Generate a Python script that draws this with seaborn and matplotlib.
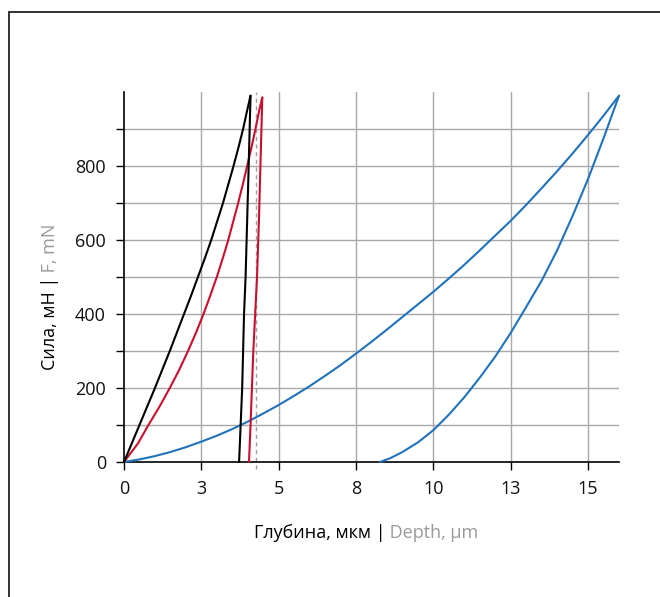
import matplotlib
matplotlib.use("Agg")
import matplotlib.pyplot as plt
import seaborn as sns
from matplotlib.patches import Rectangle

# Кривые нагружения / разгрузки (глубина, мкм ; сила, мН)
black_load_h = [0, 0.25, 0.5, 0.75, 1.0, 1.24, 1.48, 1.71, 1.94, 2.17, 2.39,
                2.61, 2.82, 3.01, 3.20, 3.37, 3.54, 3.70, 3.85, 3.98, 4.09]
black_load_f = [0, 50, 100, 150, 200, 250, 300, 350, 400, 450, 500,
                550, 600, 650, 700, 750, 800, 850, 900, 950, 990]
black_unload_h = [4.09, 4.03, 3.98, 3.93, 3.88, 3.82, 3.77, 3.72]
black_unload_f = [990, 800, 650, 500, 400, 200, 100, 0]

red_load_h = [0, 0.45, 0.79, 1.15, 1.48, 1.79, 2.07, 2.33, 2.57, 2.79, 3.00,
              3.19, 3.37, 3.53, 3.69, 3.84, 3.98, 4.12, 4.25, 4.37, 4.47]
red_load_f = [0, 50, 100, 150, 200, 250, 300, 350, 400, 450, 500,
              550, 600, 650, 700, 750, 800, 850, 900, 950, 985]
red_unload_h = [4.47, 4.41, 4.36, 4.30, 4.18, 4.09, 4.04]
red_unload_f = [985, 800, 650, 500, 300, 100, 0]

blue_load_h = [0, 0.5, 1.0, 1.5, 2.0, 2.5, 3.0, 3.5, 4.0, 4.5, 5.0, 5.5, 6.0,
               6.5, 7.0, 7.5, 8.0, 8.5, 9.0, 9.5, 10.0, 10.5, 11.0, 11.5,
               12.0, 12.5, 13.0, 13.5, 14.0, 14.5, 15.0, 15.5, 16.0]
blue_load_f = [0, 7, 16, 27, 40, 55, 71, 89, 109, 131, 154, 179, 205,
               233, 262, 293, 325, 358, 392, 426, 460, 496, 533, 572,
               612, 652, 695, 740, 786, 834, 884, 936, 990]
blue_unload_h = [16.0, 15.5, 15.0, 14.5, 14.0, 13.5, 13.0, 12.5, 12.0,
                 11.5, 11.0, 10.5, 10.0, 9.5, 9.0, 8.6, 8.27]
blue_unload_f = [990, 875, 765, 665, 572, 490, 419, 349, 285,
                 228, 175, 128, 86, 53, 27, 10, 0]

dashed_h = 4.27

x_ticks = [0, 2.5, 5, 7.5, 10, 12.5, 15]
x_labels = ["0", "3", "5", "8", "10", "13", "15"]
y_ticks = [0, 100, 200, 300, 400, 500, 600, 700, 800, 900]
y_labels = ["0", "", "200", "", "400", "", "600", "", "800", ""]

BLACK = "#000000"
RED = "#c8102e"
BLUE = "#1f72bb"
GRID = "#a8a8a8"
GRAY_TXT = "#9a9a9a"
FONT = "Open Sans"
FS = 13

sns.set_style("ticks")
plt.rcParams["font.family"] = [FONT, "DejaVu Sans"]

W, H = 660, 597
fig = plt.figure(figsize=(W / 100, H / 100), dpi=100)
ax = fig.add_axes([124 / W, 1 - 462 / H, (619 - 124) / W, (462 - 92) / H])

for xs in x_ticks[1:]:
    ax.axvline(xs, color=GRID, lw=1.0, zorder=0)
for ys in y_ticks[1:]:
    ax.axhline(ys, color=GRID, lw=1.0, zorder=0)

ax.axvline(dashed_h, ymin=-0.018, ymax=1, color="#a0a0a0", lw=1.0,
           ls=(0, (3, 2.5)), clip_on=False, zorder=1)

curves = [
    (blue_load_h, blue_load_f, BLUE),
    (blue_unload_h, blue_unload_f, BLUE),
    (red_load_h, red_load_f, RED),
    (red_unload_h, red_unload_f, RED),
    (black_load_h, black_load_f, BLACK),
    (black_unload_h, black_unload_f, BLACK),
]
for hs, fs, col in curves:
    sns.lineplot(x=hs, y=fs, sort=False, estimator=None, color=col,
                 lw=1.5, ax=ax, clip_on=False, zorder=3)

ax.set_xlim(0, 16)
ax.set_ylim(0, 1000)
ax.set_xticks(x_ticks)
ax.set_xticklabels(x_labels)
ax.set_yticks(y_ticks)
ax.set_yticklabels(y_labels)
ax.tick_params(direction="out", length=6, width=1.0, color="black",
               labelsize=FS, labelcolor="#111111", pad=7)
sns.despine(ax=ax)
for s in ("left", "bottom"):
    ax.spines[s].set_linewidth(1.2)
    ax.spines[s].set_color("black")
ax.set_xlabel("")
ax.set_ylabel("")

# рамка вокруг рисунка
frame = Rectangle((8.5 / W, -0.1), 1.2, 1 - 12 / H + 0.1, fill=False,
                  edgecolor="#222222", lw=1.3, transform=fig.transFigure,
                  clip_on=False)
fig.patches.append(frame)

# подписи осей в два цвета
fam = [FONT, "DejaVu Sans"]
r = fig.canvas.get_renderer()
tx1 = fig.text(0, 0, "Глубина, мкм |", color="black", fontsize=FS, family=fam)
tx2 = fig.text(0, 0, " Depth, µm", color=GRAY_TXT, fontsize=FS, family=fam)
w1 = tx1.get_window_extent(r).width
w2 = tx2.get_window_extent(r).width
x0 = 366 - (w1 + w2) / 2
tx1.set_position((x0 / W, 1 - 533 / H))
tx2.set_position(((x0 + w1) / W, 1 - 533 / H))
for t in (tx1, tx2):
    t.set_va("center")
    t.set_ha("left")

ty1 = fig.text(0, 0, "Сила, мН |", color="black", fontsize=FS, rotation=90, family=fam)
ty2 = fig.text(0, 0, " F, mN", color=GRAY_TXT, fontsize=FS, rotation=90, family=fam)
h1 = ty1.get_window_extent(r).height
h2 = ty2.get_window_extent(r).height
y0 = 297 + (h1 + h2) / 2  # нижний край в пикселях сверху
ty1.set_position((50 / W, 1 - y0 / H))
ty2.set_position((50 / W, 1 - (y0 - h1) / H))
for t in (ty1, ty2):
    t.set_ha("center")
    t.set_va("bottom")

fig.savefig("out.png", dpi=100)
